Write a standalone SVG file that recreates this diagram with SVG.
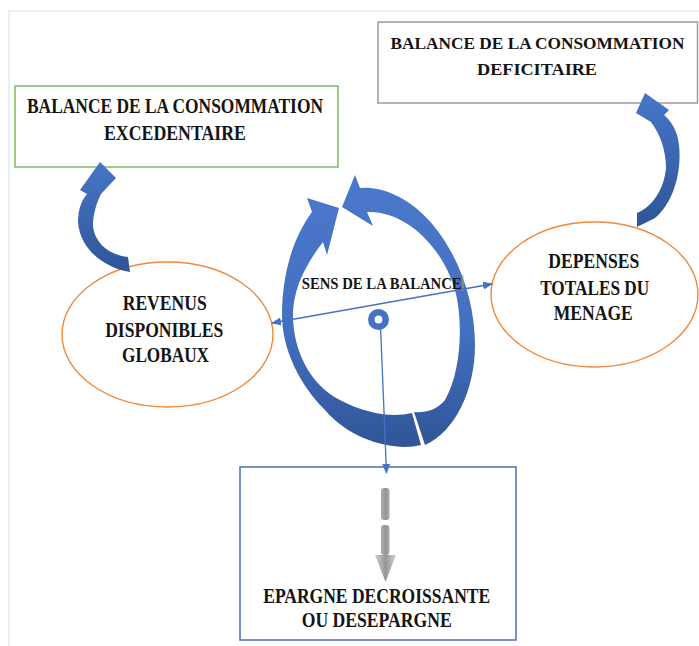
<svg xmlns="http://www.w3.org/2000/svg" width="699" height="646" viewBox="0 0 699 646">
<defs>
<style>
.lbl{font-family:"Liberation Serif","Times New Roman",serif;font-weight:bold;fill:#141414;text-anchor:middle;font-size:21px}
.sm{font-size:17px}
.ell{fill:#ffffff;stroke:#f0893b;stroke-width:1.4}
.frame{stroke:#e2e9f3;stroke-width:1.5;fill:none}
.conn{stroke:#4472c4;stroke-width:1.3;fill:none}
</style>
<linearGradient id="bandGrad" gradientUnits="userSpaceOnUse" x1="0" y1="175" x2="0" y2="450">
<stop offset="0" stop-color="#4a78cc"/>
<stop offset="0.55" stop-color="#4470c0"/>
<stop offset="1" stop-color="#2f5597"/>
</linearGradient>
<linearGradient id="leftGrad" gradientUnits="userSpaceOnUse" x1="0" y1="165" x2="0" y2="272">
<stop offset="0" stop-color="#4675c8"/>
<stop offset="1" stop-color="#2f5597"/>
</linearGradient>
<linearGradient id="rightGrad" gradientUnits="userSpaceOnUse" x1="0" y1="94" x2="0" y2="227">
<stop offset="0" stop-color="#4675c8"/>
<stop offset="1" stop-color="#2f5597"/>
</linearGradient>
<linearGradient id="grayGrad" gradientUnits="userSpaceOnUse" x1="375" y1="0" x2="396" y2="0">
<stop offset="0" stop-color="#d0d0d0"/>
<stop offset="0.5" stop-color="#969696"/>
<stop offset="1" stop-color="#d0d0d0"/>
</linearGradient>
<marker id="arr" markerUnits="userSpaceOnUse" markerWidth="10" markerHeight="8" refX="9" refY="4" orient="auto">
<path d="M0,0 L10,4 L0,8 Z" fill="#4472c4"/>
</marker>
</defs>
<rect width="699" height="646" fill="#ffffff"/>
<path class="frame" d="M699,11 H9 V646"/>

<g id="excedentaire">
<rect x="15" y="86" width="323" height="81" fill="#ffffff" stroke="#80bb5c" stroke-width="1.5"/>
<text class="lbl" x="175" y="113" textLength="296" lengthAdjust="spacingAndGlyphs">BALANCE DE LA CONSOMMATION</text>
<text class="lbl" x="175" y="140" textLength="142" lengthAdjust="spacingAndGlyphs">EXCEDENTAIRE</text>
</g>

<g id="deficitaire">
<rect x="378" y="22" width="319.5" height="81" fill="#ffffff" stroke="#9c9c9c" stroke-width="1.5"/>
<text class="lbl sm" x="537.5" y="49" textLength="294" lengthAdjust="spacingAndGlyphs">BALANCE DE LA CONSOMMATION</text>
<text class="lbl sm" x="537" y="75" textLength="120" lengthAdjust="spacingAndGlyphs">DEFICITAIRE</text>
</g>

<g id="revenus">
<ellipse class="ell" cx="167.5" cy="334.5" rx="105.5" ry="72.5"/>
<text class="lbl" x="164.7" y="310" textLength="84" lengthAdjust="spacingAndGlyphs">REVENUS</text>
<text class="lbl" x="164.2" y="336.5" textLength="118" lengthAdjust="spacingAndGlyphs">DISPONIBLES</text>
<text class="lbl" x="165.5" y="361.5" textLength="87" lengthAdjust="spacingAndGlyphs">GLOBAUX</text>
</g>

<g id="depenses">
<ellipse class="ell" cx="594.5" cy="294.5" rx="103.5" ry="72.5"/>
<text class="lbl" x="593.8" y="268" textLength="91" lengthAdjust="spacingAndGlyphs">DEPENSES</text>
<text class="lbl" x="594.7" y="295" textLength="109" lengthAdjust="spacingAndGlyphs">TOTALES DU</text>
<text class="lbl" x="593.3" y="320" textLength="79" lengthAdjust="spacingAndGlyphs">MENAGE</text>
</g>

<g id="epargne">
<rect x="240" y="467" width="276" height="173" fill="#ffffff" stroke="#4a6db3" stroke-width="1.5"/>
<text class="lbl" x="376.7" y="603" textLength="227" lengthAdjust="spacingAndGlyphs">EPARGNE DECROISSANTE</text>
<text class="lbl" x="376.7" y="626.5" textLength="150" lengthAdjust="spacingAndGlyphs">OU DESEPARGNE</text>
</g>

<g id="balance">
<path fill="url(#bandGrad)" d="M421,445 C395,452 350,440 325,410 C300,385 282,350 282,315 C282,270 295,235 312,212 L307,198 L339,208 L327,255 L323,242 C305,265 293,290 293,315 C293,350 310,385 340,400 C365,413 390,418 412,413 Z"/>
<path fill="url(#bandGrad)" d="M425,445 C455,432 475,390 475,345 C475,280 440,215 395,195 C383,189 370,187 360,188 L355,175 L342,207 L373,226 L367,212 C400,210 440,240 455,290 C463,320 462,370 445,400 C437,410 425,413 414,412 Z"/>
<circle cx="378.5" cy="319.5" r="7.2" fill="none" stroke="#4472c4" stroke-width="6.6"/>
<text class="lbl sm" x="381.7" y="289" textLength="160" lengthAdjust="spacingAndGlyphs">SENS DE LA BALANCE</text>
<line x1="463" y1="275" x2="463" y2="291" stroke="#c8a060" stroke-width="1"/>
</g>

<g id="connectors">
<line class="conn" x1="382" y1="303.5" x2="272" y2="323" marker-end="url(#arr)"/>
<line class="conn" x1="382" y1="303.5" x2="492" y2="284" marker-end="url(#arr)"/>
<line class="conn" x1="380.5" y1="326" x2="386.5" y2="473" marker-end="url(#arr)"/>
<path fill="url(#leftGrad)" d="M130,272 C105,268 80,250 78,222 C78,210 81,201 87,194 L80,190 L100,162 L116,178 L101,194 C96,204 93,215 93,226 C95,244 110,255 128,257 Z"/>
<path fill="url(#rightGrad)" d="M637,227 L655,218 C677,200 684,160 677,135 C674,126 670,120 664,115 L669,110 L645,93 L636,113 L651,122 C660,134 666,150 666,168 C664,190 652,207 637,213 Z"/>
<g fill="url(#grayGrad)">
<rect x="381" y="488" width="8.5" height="32" rx="3"/>
<rect x="381" y="525" width="8.5" height="30" rx="3"/>
<path d="M375,555 L396,555 L385.5,582 Z"/>
</g>
</g>
</svg>
